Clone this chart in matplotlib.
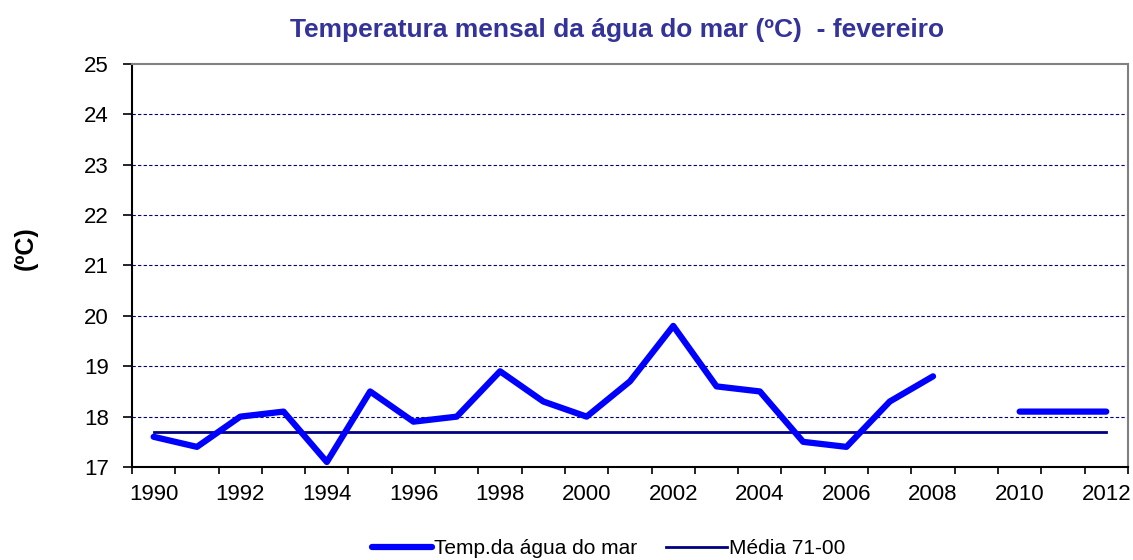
import numpy as np
import matplotlib
matplotlib.use("Agg")
import matplotlib.pyplot as plt
from matplotlib.ticker import FixedLocator

plt.rcParams['font.family'] = ['Liberation Sans', 'DejaVu Sans']

years = list(range(1990, 2013))
temp = [17.6, 17.4, 18.0, 18.1, 17.1, 18.5, 17.9, 18.0, 18.9, 18.3, 18.0, 18.7,
        19.8, 18.6, 18.5, 17.5, 17.4, 18.3, 18.8, np.nan, 18.1, 18.1, 18.1]
media = [17.7] * len(years)
xlabels = [str(y) for y in years[::2]]
yticks = list(range(17, 26))

title = "Temperatura mensal da água do mar (ºC)  - fevereiro"
ylabel = "(ºC)"
series_names = ["Temp.da água do mar", "Média 71-00"]

fig = plt.figure(figsize=(11.33, 5.60), dpi=100)
ax = fig.add_axes([0.1165, 0.166, 0.879, 0.720])

x = np.arange(len(years))
ax.plot(x, temp, color='#0000FF', lw=4.5, solid_capstyle='round',
        solid_joinstyle='round', label=series_names[0], zorder=3)
ax.plot(x, media, color='#000080', lw=2.0, label=series_names[1], zorder=2)

ax.set_xlim(-0.5, len(years) - 0.5)
ax.set_ylim(17, 25)
ax.set_yticks(yticks)
ax.set_xticks(x[::2])
ax.set_xticklabels(xlabels)
ax.xaxis.set_minor_locator(FixedLocator(np.arange(-0.5, len(years), 1.0)))
ax.tick_params(axis='x', which='major', length=0, labelsize=16, pad=12)
ax.tick_params(axis='x', which='minor', length=5, width=1.2, direction='out')
ax.tick_params(axis='y', length=6.5, width=1.2, direction='out', labelsize=16, pad=10)

for yv in yticks[1:-1]:
    ax.axhline(yv, color='#000080', lw=0.8, ls=(0, (3, 2)), zorder=1)

ax.spines['left'].set_color('black')
ax.spines['left'].set_linewidth(1.5)
ax.spines['bottom'].set_color('black')
ax.spines['bottom'].set_linewidth(1.5)
ax.spines['top'].set_color('#808080')
ax.spines['top'].set_linewidth(1.5)
ax.spines['right'].set_color('#808080')
ax.spines['right'].set_linewidth(1.5)

fig.text(0.545, 0.947, title, ha='center', va='center', fontsize=19,
         fontweight='bold', color='#333399')
fig.text(0.023, 0.557, ylabel, ha='center', va='center', rotation=90,
         fontsize=18, fontweight='bold', color='black')

leg = fig.legend(loc='center', bbox_to_anchor=(0.537, 0.02), ncol=2, frameon=False,
                 fontsize=15, handlelength=2.9, handletextpad=0.1, columnspacing=1.4,
                 borderpad=0)

fig.savefig("out.png", dpi=100)
